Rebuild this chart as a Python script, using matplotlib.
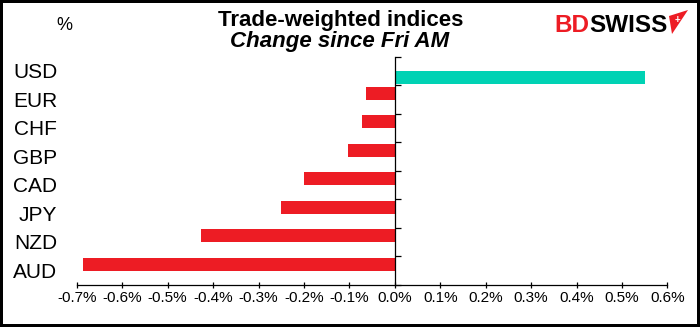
import numpy as np
import matplotlib
matplotlib.use("Agg")
import matplotlib.pyplot as plt
from matplotlib.patches import Polygon

plt.rcParams['font.family'] = ['Liberation Sans', 'DejaVu Sans']

# Trade-weighted index moves, % change since Friday morning
currencies = ['USD', 'EUR', 'CHF', 'GBP', 'CAD', 'JPY', 'NZD', 'AUD']
change = [0.55, -0.064, -0.073, -0.104, -0.199, -0.25, -0.426, -0.686]
x_ticks = [-0.7, -0.6, -0.5, -0.4, -0.3, -0.2, -0.1, 0.0, 0.1, 0.2, 0.3, 0.4, 0.5, 0.6]

RED = '#ED1C24'
TEAL = '#00D2B4'

W, H = 700, 327
fig = plt.figure(figsize=(W / 100, H / 100), dpi=100,
                 facecolor='white', edgecolor='black', linewidth=4.3)

# plot area in pixels: x 76.8..667.4, y 56.7..284.7
ax = fig.add_axes([76.8 / W, 1 - 284.7 / H, 590.6 / W, 228 / H])

vals = np.array(change)
pos = np.arange(len(currencies))
up = np.where(vals > 0, vals, 0)
down = np.where(vals < 0, vals, 0)

# two series side by side, like the spreadsheet version
ax.barh(pos + 0.222, up, height=0.45, color=TEAL, zorder=2)
ax.barh(pos - 0.222, down, height=0.45, color=RED, zorder=2)

ax.set_xlim(-0.7, 0.6)
ax.set_ylim(len(currencies) - 0.5, -0.5)

for s in ['top', 'right']:
    ax.spines[s].set_visible(False)
ax.spines['left'].set_position(('data', 0))
ax.spines['left'].set_linewidth(0.9)
ax.spines['bottom'].set_linewidth(0.9)

# category boundaries as ticks on the zero line
ax.set_yticks(np.arange(-0.5, len(currencies), 1.0))
ax.tick_params(axis='y', direction='in', length=4.3, width=0.9, labelleft=False)

ax.set_xticks(x_ticks)
ax.set_xticklabels([f"{v:.1f}%" for v in x_ticks], fontsize=11)
ax.tick_params(axis='x', direction='inout', length=5, width=0.9, pad=2)

lab = ax.secondary_yaxis('left')
lab.set_yticks(pos)
lab.set_yticklabels(currencies, fontsize=15)
lab.tick_params(length=0, pad=14)
lab.spines['left'].set_visible(False)

# titles
fig.text(341 / W, 1 - 26 / H, 'Trade-weighted indices', ha='center',
         va='baseline', fontsize=16, fontweight='bold')
fig.text(340 / W, 1 - 47 / H, 'Change since Fri AM', ha='center',
         va='baseline', fontsize=16, fontweight='bold', style='italic')
fig.text(64 / W, 1 - 25 / H, '%', ha='center', va='center', fontsize=13)

# logo
fig.text(589 / W, 1 - 32 / H, 'BD', color=RED, fontsize=17.5,
         fontweight='bold', va='baseline', ha='right')
fig.text(589 / W, 1 - 32 / H, 'SWISS', color='black', fontsize=17.5,
         fontweight='bold', va='baseline', ha='left')
flag = Polygon([(669 / W, 1 - 16 / H), (688 / W, 1 - 10 / H), (672 / W, 1 - 34 / H)],
               closed=True, transform=fig.transFigure, facecolor=RED, edgecolor='none')
fig.patches.append(flag)
fig.text(677.5 / W, 1 - 19.5 / H, '+', color='white', fontsize=7,
         fontweight='bold', ha='center', va='center')

fig.savefig('out.png', dpi=100, facecolor='white', edgecolor='black')
